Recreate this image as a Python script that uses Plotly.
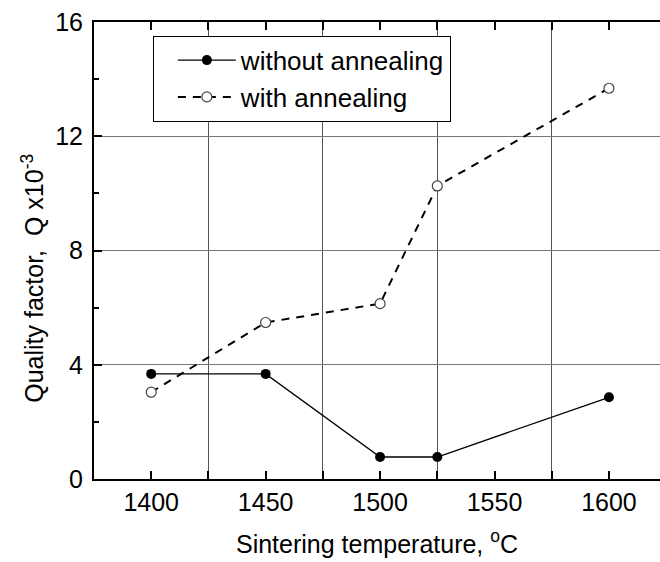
import plotly.graph_objects as go

temps = [1400, 1450, 1500, 1525, 1600]
q_without = [3.68, 3.68, 0.77, 0.77, 2.86]
q_with = [3.04, 5.48, 6.14, 10.26, 13.68]

x_ticks = [1400, 1450, 1500, 1550, 1600]
y_ticks = [0, 4, 8, 12, 16]

FONT = "Liberation Sans, Arial, sans-serif"

fig = go.Figure()
fig.add_trace(go.Scatter(
    x=temps, y=q_without, mode="lines+markers", name="without annealing",
    line=dict(color="black", width=1.3),
    marker=dict(symbol="circle", size=10, color="black"),
))
fig.add_trace(go.Scatter(
    x=temps, y=q_with, mode="lines+markers", name="with annealing",
    line=dict(color="black", width=2, dash="8px,7px"),
    marker=dict(symbol="circle", size=10, color="white", line=dict(color="#444", width=1.2)),
))

fig.update_layout(
    width=660, height=562,
    margin=dict(l=94, r=0, t=22, b=83),
    paper_bgcolor="white", plot_bgcolor="white",
    font=dict(family=FONT, size=24, color="black"),
    showlegend=True,
    legend=dict(
        x=0.104, y=0.97, xanchor="left", yanchor="top",
        bgcolor="white", bordercolor="black", borderwidth=1,
        font=dict(size=26), tracegroupgap=0, itemwidth=58, indentation=19,
    ),
    xaxis=dict(
        range=[1375, 1622.3], tickvals=x_ticks, ticktext=[str(v) for v in x_ticks],
        ticks="inside", ticklen=8, tickwidth=1.5, tickcolor="black",
        showline=True, linecolor="black", linewidth=2, mirror="ticks",
        showgrid=False, zeroline=False,
        minor=dict(tick0=1425, dtick=50, ticks="inside", ticklen=8, tickcolor="black",
                   showgrid=True, gridcolor="#555", gridwidth=1),
        title=dict(text="Sintering temperature, <sup>o</sup>C", standoff=20,
                   font=dict(size=25)),
        tickfont=dict(size=25),
    ),
    yaxis=dict(
        range=[0, 16], tickvals=y_ticks, ticktext=[str(v) for v in y_ticks],
        ticks="inside", ticklen=8, tickwidth=1.5, tickcolor="black",
        showline=True, linecolor="black", linewidth=2, mirror=False,
        showgrid=True, gridcolor="#777", gridwidth=1, zeroline=False,
        minor=dict(tick0=0, dtick=2, ticks="inside", ticklen=5, tickcolor="black", showgrid=False),
        tickfont=dict(size=25),
        ticklabelstandoff=4,
    ),
    annotations=[dict(
        text="Quality factor,  Q x10<sup>-3</sup>", textangle=-90,
        xref="paper", yref="paper", x=-0.108, y=0.44,
        xanchor="center", yanchor="middle", showarrow=False,
        font=dict(size=25),
    )],
)

fig.write_html("out.html")
